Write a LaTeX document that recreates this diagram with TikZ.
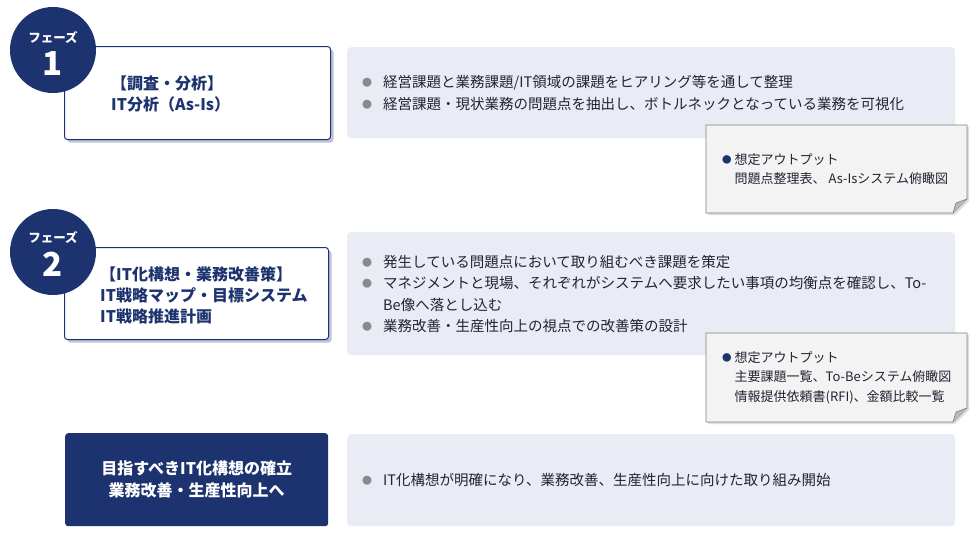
\documentclass[tikz,border=0pt]{standalone}
\usepackage{fontspec}
\setmainfont{Noto Sans CJK JP}
\usetikzlibrary{calc,shadows}
\definecolor{navy}{HTML}{1D336F}
\definecolor{arrowc}{HTML}{7F8FB8}
\definecolor{grayfill}{HTML}{E9ECF4}
\definecolor{bulgray}{HTML}{8A8A8A}
\definecolor{txtc}{HTML}{232333}
\definecolor{notefill}{HTML}{F3F3F3}
\definecolor{noteline}{HTML}{7F7F7F}
\definecolor{shadowc}{HTML}{BCC3DB}
\pgfdeclarelayer{bg}
\pgfsetlayers{bg,main}
\newcommand{\gbul}{\raisebox{0.8pt}{\textcolor{bulgray}{\fontsize{10}{10}\selectfont ●}}}
\newcommand{\nbul}{\raisebox{0.8pt}{\textcolor{navy}{\fontsize{9.5}{9.5}\selectfont ●}}}
\tikzset{
  phasebox/.style={draw=navy, line width=1pt, fill=white, rounded corners=3pt,
    anchor=north west, inner sep=0pt,
    drop shadow={fill=shadowc, opacity=1, shadow xshift=3pt, shadow yshift=-3pt}},
  goalbox/.style={fill=navy, rounded corners=3pt, anchor=north west, inner sep=0pt},
  graybox/.style={fill=grayfill, rounded corners=4pt, anchor=north west, inner sep=0pt},
  phasecircle/.style={circle, fill=navy, minimum size=86pt, inner sep=0pt},
  phaselabel/.style={text=white, font=\bfseries\fontsize{12.5}{14}\selectfont, inner sep=0pt},
  phasenum/.style={text=white, font=\bfseries\fontsize{33}{36}\selectfont, inner sep=0pt},
  boxtext/.style={text=navy, font=\bfseries\fontsize{16}{21}\selectfont, align=left, inner sep=0pt, anchor=west},
  listtext/.style={text=txtc, font=\fontsize{14.5}{21.5}\selectfont, inner sep=0pt, anchor=west},
  notetext/.style={text=txtc, font=\fontsize{13}{19.5}\selectfont, inner sep=0pt, anchor=west},
  notebox/.style={fill=notefill, draw=noteline, line width=0.9pt},
  noteshadow/.style={fill=gray!25},
}
\begin{document}
\begin{tikzpicture}[x=1pt,y=-1pt]
\useasboundingbox (0,0) rectangle (980,538);
\fill[white] (0,0) rectangle (980,538);

% left column boxes
\node[phasebox, minimum width=266pt, minimum height=93pt] (b1) at (64,46) {};
\node[phasebox, minimum width=264pt, minimum height=92pt] (b2) at (64,247) {};
\node[goalbox, minimum width=263pt, minimum height=93pt] (b3) at (65,433) {};

% connectors (bar and arrow)
\begin{pgfonlayer}{bg}
\fill[arrowc] ($(b1.south west)+(96,-2)$) rectangle ($(b2.north west)+(132,2)$);
\fill[arrowc] ($(b2.south west)+(96,-2)$) -- ($(b2.south west)+(132,-2)$)
  -- ($(b3.north west)+(131,-45)$) -- ($(b3.north west)+(148,-45)$)
  -- ($(b3.north west)+(113,-10)$) -- ($(b3.north west)+(78,-45)$)
  -- ($(b3.north west)+(95,-45)$) -- cycle;
\end{pgfonlayer}

% phase circles
\node[phasecircle] (c1) at (53,50) {};
\node[phaselabel] (p1) at (53,38) {フェーズ};
\node[phasenum] (n1) at (53,64) {1};
\node[phasecircle] (c2) at (53,252) {};
\node[phaselabel] (p2) at (53,238) {フェーズ};
\node[phasenum] (n2) at (53,264) {2};

% box texts
\node[boxtext] (t1) at (111,94) {【調査・分析】\\IT分析（As-Is）};
\node[boxtext] (t2) at (100,295) {【IT化構想・業務改善策】\\IT戦略マップ・目標システム\\IT戦略推進計画};
\node[text=white, font=\bfseries\fontsize{16}{22}\selectfont, align=center, inner sep=0pt] (t3) at (b3.center) {目指すべきIT化構想の確立\\業務改善・生産性向上へ};

% right gray boxes
\node[graybox, minimum width=608pt, minimum height=91pt] (g1) at (347,47) {};
\node[graybox, minimum width=608pt, minimum height=123pt] (g2) at (347,232) {};
\node[graybox, minimum width=608pt, minimum height=92pt] (g3) at (347,434) {};

\node[listtext] (l1) at (362,94) {\begin{tabular}{@{}l@{\hspace{11pt}}l@{}}
\gbul & 経営課題と業務課題/IT領域の課題をヒアリング等を通して整理\\
\gbul & 経営課題・現状業務の問題点を抽出し、ボトルネックとなっている業務を可視化
\end{tabular}};
\node[listtext] (l2) at (362,295) {\begin{tabular}{@{}l@{\hspace{11pt}}l@{}}
\gbul & 発生している問題点において取り組むべき課題を策定\\
\gbul & マネジメントと現場、それぞれがシステムへ要求したい事項の均衡点を確認し、To-\\
 & Be像へ落とし込む\\
\gbul & 業務改善・生産性向上の視点での改善策の設計
\end{tabular}};
\node[listtext] (l3) at (362,481) {\begin{tabular}{@{}l@{\hspace{11pt}}l@{}}
\gbul & IT化構想が明確になり、業務改善、生産性向上に向けた取り組み開始
\end{tabular}};

% output notes
\fill[noteshadow] (708,127) -- (969,127) -- (969,201) -- (955,215) -- (708,215) -- cycle;
\draw[notebox] (706,125) -- (967,125) -- (967,199) -- (953,213) -- (706,213) -- cycle;
\fill[gray!55] (953,213) -- (956,203) -- (967,199) -- cycle;
\draw[noteline, line width=0.6pt] (953,213) -- (956,203) -- (967,199);
\node[notetext] (o1) at (722,170) {\begin{tabular}{@{}l@{\hspace{3pt}}l@{}}
\nbul & 想定アウトプット\\
 & 問題点整理表、 As-Isシステム俯瞰図
\end{tabular}};

\fill[noteshadow] (708,335) -- (969,335) -- (969,410) -- (955,424) -- (708,424) -- cycle;
\draw[notebox] (706,333) -- (967,333) -- (967,408) -- (953,422) -- (706,422) -- cycle;
\fill[gray!55] (953,422) -- (956,412) -- (967,408) -- cycle;
\draw[noteline, line width=0.6pt] (953,422) -- (956,412) -- (967,408);
\node[notetext] (o2) at (722,378) {\begin{tabular}{@{}l@{\hspace{3pt}}l@{}}
\nbul & 想定アウトプット\\
 & 主要課題一覧、To-Beシステム俯瞰図\\
 & 情報提供依頼書(RFI)、金額比較一覧
\end{tabular}};
\end{tikzpicture}
\end{document}
